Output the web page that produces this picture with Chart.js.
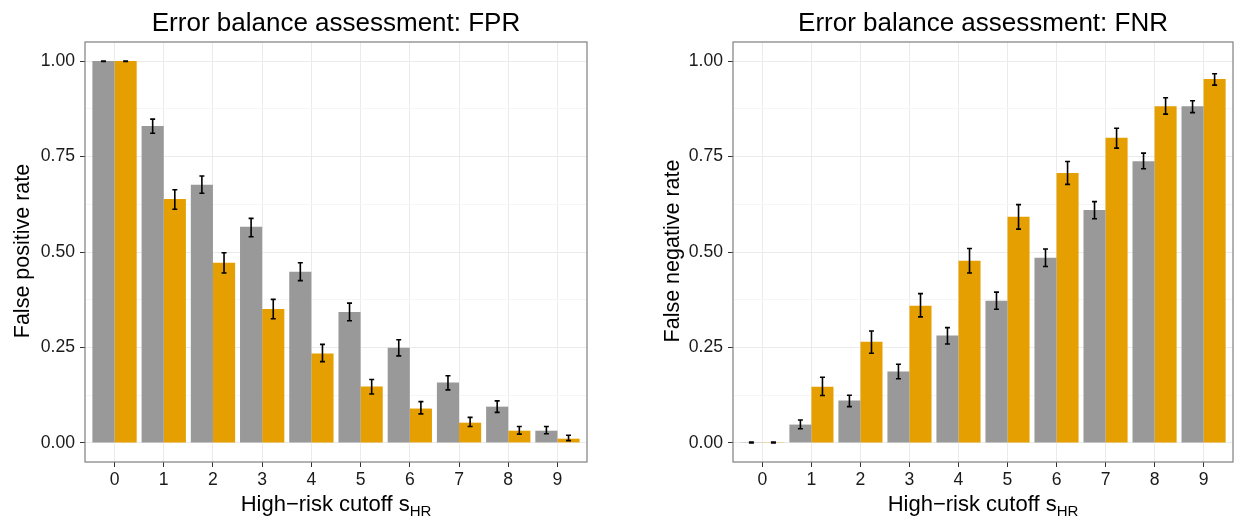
<!DOCTYPE html>
<html>
<head>
<meta charset="utf-8">
<script src="https://cdn.jsdelivr.net/npm/chart.js@4.4.0/dist/chart.umd.min.js"></script>
<style>
body{margin:0;background:#fff;}
#wrap{position:relative;width:1235px;height:517px;}
canvas{position:absolute;top:0;}
</style>
</head>
<body>
<div id="wrap">
<canvas id="fpr" width="617" height="517" style="left:0"></canvas>
<canvas id="fnr" width="618" height="517" style="left:617px"></canvas>
</div>
<script>
// cutoffs on the x axis
const cutoffs = [0, 1, 2, 3, 4, 5, 6, 7, 8, 9];
const yTicks = [0, 0.125, 0.25, 0.375, 0.5, 0.625, 0.75, 0.875, 1];

// FPR panel
const fprGray     = [1.000, 0.830, 0.676, 0.566, 0.448, 0.343, 0.249, 0.158, 0.095, 0.032];
const fprGrayLo   = [0.999, 0.811, 0.654, 0.540, 0.425, 0.320, 0.228, 0.139, 0.080, 0.024];
const fprGrayHi   = [1.000, 0.848, 0.699, 0.588, 0.472, 0.366, 0.270, 0.176, 0.110, 0.043];
const fprOrange   = [1.000, 0.639, 0.472, 0.351, 0.234, 0.148, 0.090, 0.053, 0.032, 0.011];
const fprOrangeLo = [0.999, 0.612, 0.445, 0.325, 0.213, 0.128, 0.076, 0.043, 0.023, 0.006];
const fprOrangeHi = [1.000, 0.663, 0.498, 0.376, 0.258, 0.166, 0.108, 0.067, 0.043, 0.020];

// FNR panel
const fnrGray     = [0.002, 0.048, 0.111, 0.187, 0.281, 0.372, 0.485, 0.610, 0.738, 0.882];
const fnrGrayLo   = [0.000, 0.037, 0.095, 0.168, 0.259, 0.350, 0.462, 0.587, 0.718, 0.865];
const fnrGrayHi   = [0.002, 0.060, 0.125, 0.206, 0.302, 0.395, 0.508, 0.632, 0.759, 0.896];
const fnrOrange   = [0.002, 0.147, 0.265, 0.359, 0.477, 0.592, 0.707, 0.799, 0.882, 0.953];
const fnrOrangeLo = [0.000, 0.124, 0.235, 0.330, 0.445, 0.560, 0.677, 0.772, 0.861, 0.937];
const fnrOrangeHi = [0.002, 0.172, 0.293, 0.391, 0.509, 0.624, 0.737, 0.824, 0.904, 0.967];

const GRAY = '#999999', ORANGE = '#E69F00';
const FONT = '"Liberation Sans", Arial, sans-serif';

function isMajor(v){
    return Math.abs(v*4 - Math.round(v*4)) < 1e-6;
}

// error bars, panel border and the titles
const panelPlugin = {
    id: 'panel',
    afterDatasetsDraw(chart){
        const ctx = chart.ctx, y = chart.scales.y, a = chart.chartArea;
        ctx.save();
        ctx.strokeStyle = '#000';
        ctx.lineWidth = 1.6;
        chart.data.datasets.forEach((ds, i) => {
            chart.getDatasetMeta(i).data.forEach((bar, j) => {
                const yl = y.getPixelForValue(ds.errLo[j]);
                const yh = y.getPixelForValue(ds.errHi[j]);
                ctx.beginPath();
                ctx.moveTo(bar.x, yl); ctx.lineTo(bar.x, yh);
                ctx.moveTo(bar.x-2.5, yl); ctx.lineTo(bar.x+2.5, yl);
                ctx.moveTo(bar.x-2.5, yh); ctx.lineTo(bar.x+2.5, yh);
                ctx.stroke();
            });
        });
        ctx.strokeStyle = '#7f7f7f';
        ctx.lineWidth = 1.2;
        ctx.strokeRect(a.left, a.top, a.right-a.left, a.bottom-a.top);
        ctx.restore();
    },
    afterDraw(chart, args, opts){
        const ctx = chart.ctx, a = chart.chartArea;
        const cx = (a.left + a.right)/2;
        ctx.save();
        ctx.fillStyle = '#000';
        ctx.textAlign = 'center';
        ctx.textBaseline = 'alphabetic';
        ctx.font = '26px ' + FONT;
        ctx.fillText(opts.title, cx, 31);

        // y axis title
        ctx.font = '21.5px ' + FONT;
        ctx.save();
        ctx.translate(opts.yTitleX, (a.top + a.bottom)/2 - 1);
        ctx.rotate(-Math.PI/2);
        ctx.fillText(opts.yTitle, 0, 0);
        ctx.restore();

        // x axis title with subscript
        const main = 'High\u2212risk cutoff s', sub = 'HR';
        ctx.font = '22px ' + FONT;
        const w1 = ctx.measureText(main).width;
        ctx.font = '15px ' + FONT;
        const w2 = ctx.measureText(sub).width;
        const x0 = cx - (w1 + w2)/2;
        ctx.textAlign = 'left';
        ctx.font = '22px ' + FONT;
        ctx.fillText(main, x0, 511);
        ctx.font = '15px ' + FONT;
        ctx.fillText(sub, x0 + w1, 516);
        ctx.restore();
    }
};

function makePanel(id, p){
    return new Chart(document.getElementById(id), {
        type: 'bar',
        data: {
            datasets: [
                {data: cutoffs.map((c, i) => ({x: c, y: p.gray[i]})), backgroundColor: GRAY,
                 errLo: p.grayLo, errHi: p.grayHi},
                {data: cutoffs.map((c, i) => ({x: c, y: p.orange[i]})), backgroundColor: ORANGE,
                 errLo: p.orangeLo, errHi: p.orangeHi}
            ]
        },
        options: {
            responsive: false,
            animation: false,
            events: [],
            categoryPercentage: 0.9,
            barPercentage: 1,
            layout: {padding: {top: 42, right: p.padRight, left: 0, bottom: 0}},
            plugins: {
                legend: {display: false},
                tooltip: {enabled: false},
                panel: {title: p.title, yTitle: p.yTitle, yTitleX: p.yTitleX}
            },
            scales: {
                x: {
                    type: 'linear', min: -0.6, max: 9.6, offset: false,
                    afterBuildTicks: s => { s.ticks = cutoffs.map(v => ({value: v})); },
                    afterFit: s => { s.height = 55; },
                    grid: {offset: false, color: '#ebebeb', tickColor: '#333', tickLength: 5},
                    border: {display: false},
                    ticks: {font: {family: FONT, size: 17.6}, color: '#1a1a1a', padding: 3,
                            maxRotation: 0, autoSkip: false, callback: v => String(v)}
                },
                y: {
                    min: -0.05, max: 1.05,
                    afterBuildTicks: s => { s.ticks = yTicks.map(v => ({value: v})); },
                    afterFit: s => { s.width = p.leftArea; },
                    grid: {
                        color: c => isMajor(c.tick.value) ? '#ebebeb' : '#f5f5f5',
                        tickColor: c => isMajor(c.tick.value) ? '#333' : 'rgba(0,0,0,0)',
                        tickLength: 5
                    },
                    border: {display: false},
                    ticks: {font: {family: FONT, size: 17.6}, color: '#1a1a1a', padding: 5, autoSkip: false,
                            callback: v => isMajor(v) ? v.toFixed(2) : ''}
                }
            }
        },
        plugins: [panelPlugin]
    });
}

makePanel('fpr', {
    gray: fprGray, grayLo: fprGrayLo, grayHi: fprGrayHi,
    orange: fprOrange, orangeLo: fprOrangeLo, orangeHi: fprOrangeHi,
    title: 'Error balance assessment: FPR', yTitle: 'False positive rate',
    leftArea: 85, padRight: 30, yTitleX: 29
});

makePanel('fnr', {
    gray: fnrGray, grayLo: fnrGrayLo, grayHi: fnrGrayHi,
    orange: fnrOrange, orangeLo: fnrOrangeLo, orangeHi: fnrOrangeHi,
    title: 'Error balance assessment: FNR', yTitle: 'False negative rate',
    leftArea: 116, padRight: 2, yTitleX: 62
});
</script>
</body>
</html>
